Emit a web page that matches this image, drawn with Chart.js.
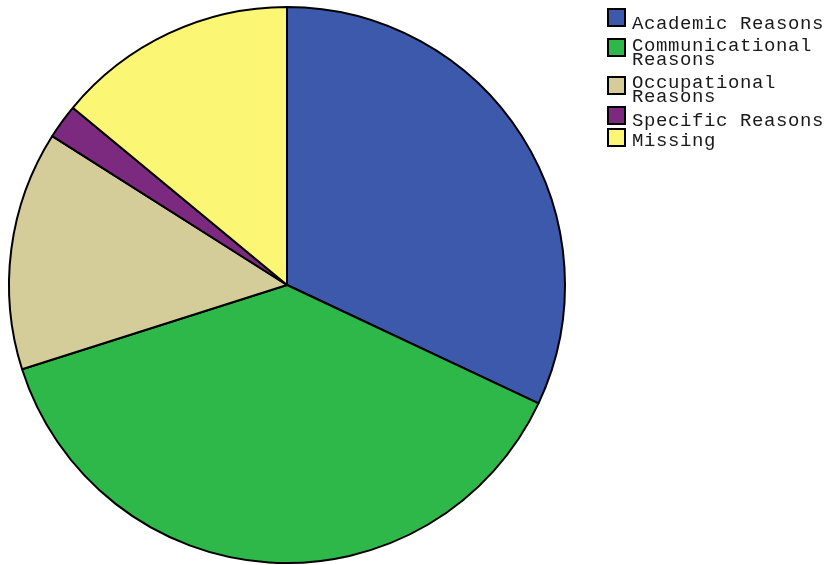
<!DOCTYPE html>
<html>
<head>
<meta charset="utf-8">
<script src="https://cdn.jsdelivr.net/npm/chart.js@4/dist/chart.umd.min.js"></script>
<style>
  html, body { margin: 0; padding: 0; background: #fff; }
  #wrap { position: relative; width: 827px; height: 565px; }
  #pie { position: absolute; left: 0; top: 0; }
  #legend { position: absolute; left: 607px; top: 8px; font-family: "Liberation Mono", "DejaVu Sans Mono", monospace; font-size: 19px; color: #1a1a1a; }
  .item { position: relative; display: flex; align-items: flex-start; }
  .box { width: 15px; height: 15px; border: 2px solid #000; flex: none; }
  .txt { margin-left: 6px; line-height: 13.5px; letter-spacing: 0.6px; white-space: nowrap; }
  .item:nth-child(1) { height: 30px; }
  .item:nth-child(2) { height: 38px; }
  .item:nth-child(3) { height: 30px; }
  .item:nth-child(4) { height: 22px; }
  .item:nth-child(1) .txt { margin-top: 10px; }
  .item:nth-child(2) .txt { margin-top: 2px; }
  .item:nth-child(3) .txt { margin-top: 1px; }
  .item:nth-child(4) .txt { margin-top: 9px; }
  .item:nth-child(5) .txt { margin-top: 7px; }
</style>
</head>
<body>
<div id="wrap">
  <canvas id="pie" width="827" height="565"></canvas>
  <div id="legend"></div>
</div>
<script>
const categories = [['Academic Reasons'], ['Communicational', 'Reasons'], ['Occupational', 'Reasons'], ['Specific Reasons'], ['Missing']];
const shares     = [32.0, 38.1, 13.9, 2.0, 14.0];
const colors     = ['#3d59ab', '#2eb84a', '#d4cd99', '#7c2a80', '#fbf775'];

const legendEl = document.getElementById('legend');
categories.forEach((lines, i) => {
    const item = document.createElement('div');
    item.className = 'item';
    const box = document.createElement('div');
    box.className = 'box';
    box.style.background = colors[i];
    const txt = document.createElement('div');
    txt.className = 'txt';
    txt.innerHTML = lines.join('<br>');
    item.appendChild(box);
    item.appendChild(txt);
    legendEl.appendChild(item);
});

new Chart(document.getElementById('pie').getContext('2d'), {
    type: 'pie',
    data: {
        labels: categories.map(l => l.join(' ')),
        datasets: [{
            data: shares,
            backgroundColor: colors,
            borderColor: '#000',
            borderWidth: 2,
            hoverOffset: 0,
        }],
    },
    options: {
        responsive: false,
        animation: false,
        layout: { padding: { left: 8, top: 6, bottom: 1, right: 261 } },
        plugins: { legend: { display: false }, tooltip: { enabled: false } },
    },
});
</script>
</body>
</html>
